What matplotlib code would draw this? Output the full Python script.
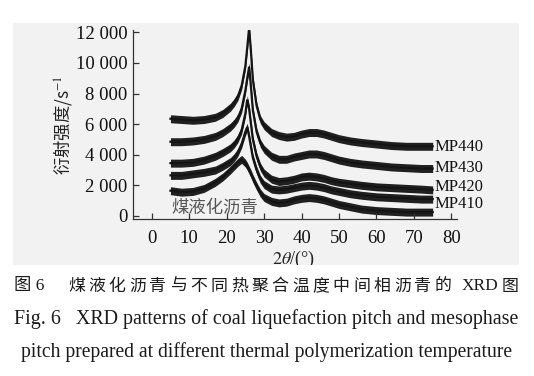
import matplotlib
matplotlib.use("Agg")
import matplotlib.pyplot as plt
from matplotlib.patches import Rectangle

# ---------------- data ----------------
two_theta = [5, 8, 11, 14, 17, 19, 21, 22, 23, 24, 25, 25.5, 26, 26.5, 27, 28, 29, 30,
             32, 34, 36, 38, 40, 42, 44, 46, 48, 50, 53, 56, 60, 64, 68, 72, 75]

mp440 = [6350, 6300, 6250, 6300, 6450, 6700, 7100, 7400, 7800, 8500, 9800, 11000, 12300, 10700,
         8900, 7200, 6300, 5900, 5450, 5250, 5150, 5200, 5350, 5450, 5450, 5350, 5200, 5050,
         4900, 4800, 4700, 4600, 4550, 4550, 4550]
mp430 = [4850, 4850, 4900, 5000, 5200, 5450, 5800, 6050, 6400, 7000, 8200, 9000, 9750, 8400,
         6900, 5500, 4750, 4350, 3900, 3700, 3700, 3850, 3950, 4050, 4050, 3950, 3800, 3650,
         3500, 3400, 3300, 3200, 3150, 3100, 3100]
mp420 = [3450, 3450, 3500, 3650, 3900, 4150, 4450, 4700, 5050, 5600, 6700, 7600, 7000, 6000,
         5000, 3900, 3200, 2800, 2400, 2250, 2300, 2400, 2550, 2600, 2550, 2450, 2300, 2200,
         2100, 2000, 1900, 1850, 1800, 1750, 1700]
mp410 = [2650, 2650, 2750, 2850, 3000, 3250, 3550, 3800, 4150, 4700, 5500, 5800, 5200, 4500,
         3800, 3000, 2400, 2050, 1750, 1700, 1750, 1850, 1950, 2000, 1950, 1850, 1700, 1600,
         1450, 1350, 1250, 1200, 1150, 1100, 1100]
coal = [1650, 1550, 1600, 1800, 2200, 2550, 3000, 3250, 3500, 3700, 3450, 3250, 3000, 2750,
        2450, 1950, 1500, 1200, 950, 850, 900, 1050, 1150, 1200, 1150, 1050, 900, 750,
        600, 450, 350, 300, 250, 250, 250]

series = [mp440, mp430, mp420, mp410, coal]
series_labels = ["MP440", "MP430", "MP420", "MP410", "煤液化沥青"]

x_ticks = [0, 10, 20, 30, 40, 50, 60, 70, 80]
y_ticks = [0, 2000, 4000, 6000, 8000, 10000, 12000]
y_tick_labels = ["0", "2 000", "4 000", "6 000", "8 000", "10 000", "12 000"]

x_label = r"$2\theta$/(°)"
y_label = r"衍射强度/s$^{-1}$"
caption_cn_head = "图 6"
caption_cn_body = "煤液化沥青与不同热聚合温度中间相沥青的"
caption_cn_tail = ["XRD", "图"]
caption_en_1 = "Fig. 6   XRD patterns of coal liquefaction pitch and mesophase"
caption_en_2 = "pitch prepared at different thermal polymerization temperature"

# ---------------- figure ----------------
W, H = 534, 376
plt.rcParams["mathtext.fontset"] = "stix"
SERIF = ["Liberation Serif", "Noto Sans CJK SC", "DejaVu Sans"]
CJK = ["Noto Sans CJK SC", "Liberation Serif", "DejaVu Sans"]

fig = plt.figure(figsize=(W / 100, H / 100), dpi=100)
fig.patch.set_facecolor("white")


def fx(px):
    return px / W


def fy(py):
    return 1 - py / H


# grey panel behind the chart
fig.patches.append(Rectangle((fx(13), fy(265)), fx(519) - fx(13), fy(23) - fy(265),
                             transform=fig.transFigure, facecolor="#f2f2f2",
                             edgecolor="none", zorder=-10))

ax = fig.add_axes([fx(133), fy(219), fx(457) - fx(133), fy(30) - fy(219)])
ax.set_facecolor("none")
ax.set_zorder(0)
ax.set_xlim(-5, 81.5)
ax.set_ylim(-200, 12150)

ink = "#141414"
for y in series:
    lo = [v - 260 for v in y]
    hi = [v + 260 for v in y]
    ax.fill_between(two_theta, lo, hi, color=ink, linewidth=0, alpha=0.95)
    ax.plot(two_theta, y, color=ink, lw=1.6, solid_joinstyle="miter")

# series labels at right
label_pos = {"MP440": 4500, "MP430": 3150, "MP420": 1920, "MP410": 800}
for lab in series_labels[:4]:
    ax.text(75.4, label_pos[lab], lab, fontsize=12, family=SERIF, color="#111",
            ha="left", va="center", clip_on=False)
ax.text(5.2, 520, series_labels[4], fontsize=12.5, family=CJK, color="#555",
        ha="left", va="center")

for s in ["top", "right"]:
    ax.spines[s].set_visible(False)
for s in ["left", "bottom"]:
    ax.spines[s].set_color("#333")
    ax.spines[s].set_linewidth(0.9)

ax.set_xticks(x_ticks)
ax.set_xticklabels([str(t) for t in x_ticks])
ax.set_yticks(y_ticks)
ax.set_yticklabels(y_tick_labels)
ax.tick_params(axis="both", direction="in", length=4, width=0.9, color="#333",
               labelsize=13.5, labelcolor="#111")
ax.tick_params(axis="x", pad=8)
ax.tick_params(axis="y", pad=4)
for t in ax.get_xticklabels() + ax.get_yticklabels():
    t.set_family(SERIF)

# axis labels
fig.text(fx(63), fy(125), y_label, rotation=90, ha="center", va="center",
         fontsize=12.5, family=CJK, color="#222")
fig.text(fx(294), fy(259), x_label, ha="center", va="center", fontsize=13,
         family=SERIF, color="#222", zorder=1)

# white band covering below the grey panel (cuts the x label like the reference)
fig.patches.append(Rectangle((0, 0), 1, fy(265), transform=fig.transFigure,
                             facecolor="white", edgecolor="none", zorder=2))

# caption line 1 (justified Chinese line)
cap_color = "#1a1a1a"
yc1 = fy(286)
fig.text(fx(14), yc1, caption_cn_head, ha="left", va="center", fontsize=12.5,
         family=SERIF, color=cap_color, zorder=3)
pitch = (455 - 68) / len(caption_cn_body)
for i, ch in enumerate(caption_cn_body):
    fig.text(fx(68 + i * pitch), yc1, ch, ha="left", va="center", fontsize=12.2,
             family=CJK, color=cap_color, zorder=3)
fig.text(fx(462), yc1, caption_cn_tail[0], ha="left", va="center", fontsize=12.5,
         family=SERIF, color=cap_color, zorder=3)
fig.text(fx(518), yc1, caption_cn_tail[1], ha="right", va="center", fontsize=12.2,
         family=CJK, color=cap_color, zorder=3)

# English caption lines, fitted to width
fig.canvas.draw()
renderer = fig.canvas.get_renderer()


def fitted(txt, left, right, ypx, size=13):
    t = fig.text(fx(left), fy(ypx), txt, ha="left", va="center", fontsize=size,
                 family=SERIF, color=cap_color, zorder=3)
    w = t.get_window_extent(renderer).width
    t.set_fontsize(size * (right - left) / w)
    return t


fitted(caption_en_1, 14, 518, 319)
fitted(caption_en_2, 21, 512, 352)

fig.savefig("out.png", dpi=100, facecolor=fig.get_facecolor())
